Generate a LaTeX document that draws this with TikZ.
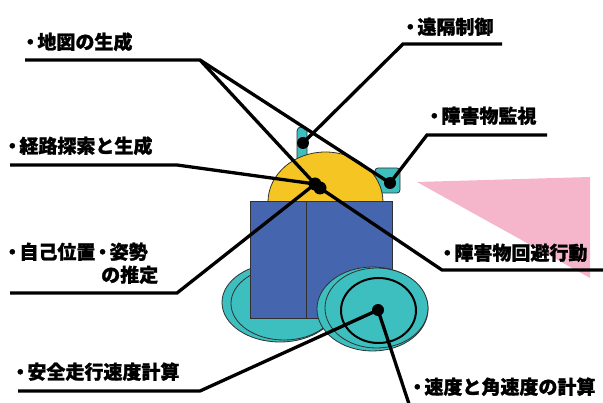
\documentclass[tikz,border=0pt]{standalone}
\usepackage{fontspec}
\newfontfamily\jp{Noto Sans CJK JP}[BoldFeatures={FakeBold=1.2}]
\newcommand\mdot{\makebox[0.75em][c]{・}}
\definecolor{domeyellow}{HTML}{F5C623}
\definecolor{wheelteal}{HTML}{3DBFBF}
\definecolor{bodyblue}{HTML}{4565AE}
\definecolor{beampink}{HTML}{F5B6CC}
\definecolor{edgegray}{HTML}{303030}
\tikzset{
  lbl/.style={anchor=base west, inner sep=0pt, font=\jp\bfseries\fontsize{19}{19}\selectfont},
  part/.style={draw=edgegray, line width=0.8pt},
  lead/.style={line width=3.3pt, black},
  hubdot/.style={circle, fill=black, minimum size=12pt, inner sep=0pt},
}
\begin{document}
\begin{tikzpicture}[x=1pt,y=-1pt]
\useasboundingbox (0,0) rectangle (603,403);
\clip (0,0) rectangle (603,403);

% sensor beam
\fill[beampink] (417,182) -- (590,177) -- (590,278) -- cycle;

% rear wheel
\draw[part, fill=wheelteal] (280,302.5) ellipse [x radius=58, y radius=39.5];
\draw[part, fill=wheelteal] (284,303.5) ellipse [x radius=53, y radius=36.5];

% antenna and range sensor
\draw[part, fill=wheelteal, rounded corners=4pt] (297,127) rectangle (307,170);
\draw[part, fill=wheelteal, rounded corners=3pt] (375,168) rectangle (400,193);

% dome (y axis points down, so the upper half runs from 180 to 360 degrees)
\draw[part, fill=domeyellow] (268,202) arc [start angle=180, end angle=360, x radius=57.5, y radius=50] -- cycle;

% body
\draw[part, fill=bodyblue] (250,201) rectangle (306,318);
\draw[part, fill=bodyblue] (306,201) rectangle (392,318);

% front wheel
\draw[part, fill=wheelteal] (372.5,309) ellipse [x radius=55.5, y radius=42];
\draw[part, fill=wheelteal] (376.5,308) ellipse [x radius=51.5, y radius=40];
\draw[line width=2pt] (378.5,310.5) ellipse [x radius=37.5, y radius=32.5];

% attachment points
\node[hubdot] (antdot) at (303,143) {};
\node[hubdot] (sensdot) at (390,183) {};
\node[hubdot, minimum size=13pt] (domeA) at (315,184) {};
\node[hubdot, minimum size=13pt] (domeB) at (320,188) {};
\node[hubdot] (hub) at (378,310) {};

% labels
\node[lbl] (tMap) at (23,49) {\mdot 地図の生成};
\node[lbl] (tPath) at (5,153) {\mdot 経路探索と生成};
\node[lbl] (tRemote) at (403,34) {\mdot 遠隔制御};
\node[lbl] (tWatch) at (427,123) {\mdot 障害物監視};
\node[lbl] (tPose) at (5,259) {\mdot 自己位置\mdot 姿勢};
\node[lbl] (tPose2) at (101,282) {の推定};
\node[lbl] (tSafe) at (13,379) {\mdot 安全走行速度計算};
\node[lbl] (tAvoid) at (440,260) {\mdot 障害物回避行動};
\node[lbl] (tSpeed) at (410,394) {\mdot 速度と角速度の計算};

% leader lines
\coordinate (mapL) at (25,60);   \coordinate (mapB) at (200,60);
\coordinate (remB) at (403,44);  \coordinate (remR) at (502,44);
\coordinate (watB) at (427,135); \coordinate (watR) at (547,135);
\coordinate (pathL) at (10,165); \coordinate (pathB) at (177,165);
\coordinate (poseL) at (10,293); \coordinate (poseB) at (177,293);
\coordinate (safeL) at (18,391); \coordinate (safeB) at (200,391);
\coordinate (avoR) at (603,270); \coordinate (avoB) at (442,270);
\coordinate (spdEnd) at (411,410);

\draw[lead] (mapL) -- (mapB) -- (sensdot.center);
\draw[lead] (mapB) -- (domeA.center);
\draw[lead] (remR) -- (remB) -- (antdot.center);
\draw[lead] (watR) -- (watB) -- (sensdot.center);
\draw[lead] (pathL) -- (pathB) -- (domeA.center);
\draw[lead] (poseL) -- (poseB) -- (domeA.center);
\draw[lead] (safeL) -- (safeB) -- (hub.center);
\draw[lead] (avoR) -- (avoB) -- (domeB.center);
\draw[lead] (hub.center) -- (spdEnd);
\end{tikzpicture}
\end{document}
